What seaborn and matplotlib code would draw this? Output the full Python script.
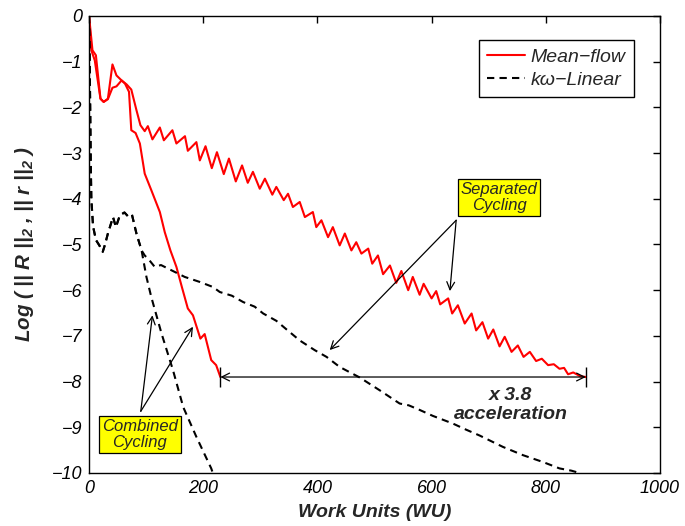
import matplotlib
matplotlib.use("Agg")
import matplotlib.pyplot as plt
from matplotlib.lines import Line2D
import pandas as pd
import seaborn as sns

# Residual histories against work units
mf_sep_x = [0, 6, 12, 20, 25.6, 33, 41, 48, 57, 66, 74, 83, 90, 97.5, 103, 111, 124, 131,
            146, 153, 168, 173, 188, 194, 204, 215, 224, 236, 245, 257, 268, 278, 287, 299,
            308, 321, 328, 341, 348.5, 357, 369, 378, 392, 398, 407, 418.6, 427, 439, 448,
            459.5, 468, 477, 489, 496, 506, 515, 527, 538, 547, 559, 567, 579, 586, 600, 608,
            615, 629, 636, 646, 658, 670, 678, 689, 699, 708, 719, 728, 740, 751, 761, 772,
            783, 793, 804, 814, 824, 832, 839, 848, 860, 870]
mf_sep_y = [0, -0.75, -0.86, -1.81, -1.88, -1.81, -1.06, -1.30, -1.41, -1.50, -1.61, -2.06,
            -2.39, -2.52, -2.41, -2.70, -2.44, -2.72, -2.50, -2.79, -2.63, -2.95, -2.76, -3.16,
            -2.85, -3.33, -2.98, -3.46, -3.12, -3.62, -3.27, -3.65, -3.41, -3.78, -3.56, -3.91,
            -3.74, -4.03, -3.89, -4.18, -4.07, -4.40, -4.29, -4.62, -4.47, -4.84, -4.62, -5.02,
            -4.76, -5.13, -4.95, -5.20, -5.09, -5.42, -5.24, -5.65, -5.46, -5.84, -5.58, -6.00,
            -5.71, -6.10, -5.86, -6.18, -6.02, -6.31, -6.18, -6.51, -6.33, -6.73, -6.51, -6.88,
            -6.70, -7.06, -6.86, -7.23, -7.02, -7.35, -7.21, -7.46, -7.35, -7.55, -7.50, -7.64,
            -7.62, -7.72, -7.70, -7.84, -7.80, -7.88, -7.90]

mf_comb_x = [0, 4, 10, 20, 25.6, 33, 41, 48, 57, 63, 70, 74, 81.5, 89, 97.5, 109, 124, 132.6,
             142.5, 153, 163, 173, 182, 195, 202.5, 214, 222.6, 230]
mf_comb_y = [0, -0.75, -0.97, -1.81, -1.88, -1.82, -1.57, -1.54, -1.41, -1.48, -1.66, -2.50,
             -2.56, -2.79, -3.45, -3.81, -4.29, -4.73, -5.13, -5.49, -5.95, -6.40, -6.55, -7.06,
             -6.96, -7.53, -7.64, -7.90]

# shared start of the turbulence-model residual
kw_head_x = [0, 1, 2, 3, 4, 7, 12, 18, 24, 28, 33, 42, 47, 54, 62, 68, 75, 83, 92]
kw_head_y = [0, -0.8, -2.0, -3.2, -4.0, -4.6, -4.9, -5.02, -5.16, -5.0, -4.76, -4.40, -4.62,
             -4.36, -4.30, -4.38, -4.34, -4.76, -5.13]

kw_comb_x = kw_head_x + [100.5, 109, 127, 147, 165, 188, 214, 219]
kw_comb_y = kw_head_y + [-5.71, -6.15, -6.95, -7.75, -8.56, -9.21, -9.90, -10.08]

kw_sep_x = kw_head_x + [97.5, 106, 115, 126, 135.6, 150, 167.6, 194, 217, 229, 250, 270, 290,
                        305, 328, 346, 369, 395, 416, 439, 474, 509, 544, 560, 579, 602, 637.5,
                        660, 684, 725, 760, 795, 824, 845, 859, 866]
kw_sep_y = kw_head_y + [-5.24, -5.35, -5.49, -5.45, -5.51, -5.60, -5.71, -5.82, -5.93, -6.04,
                        -6.12, -6.26, -6.36, -6.51, -6.67, -6.86, -7.10, -7.31, -7.46, -7.68,
                        -7.91, -8.19, -8.48, -8.52, -8.62, -8.75, -8.92, -9.05, -9.18, -9.43,
                        -9.61, -9.76, -9.90, -9.95, -10.0, -10.05]

MEAN_FLOW = "Mean\u2212flow"
K_OMEGA = "k\u03c9\u2212Linear"

x_ticks = [0, 200, 400, 600, 800, 1000]
y_ticks = [0, -1, -2, -3, -4, -5, -6, -7, -8, -9, -10]

frames = []
for xs, ys, model, cyc in [
    (mf_sep_x, mf_sep_y, MEAN_FLOW, "separated"),
    (mf_comb_x, mf_comb_y, MEAN_FLOW, "combined"),
    (kw_sep_x, kw_sep_y, K_OMEGA, "separated"),
    (kw_comb_x, kw_comb_y, K_OMEGA, "combined"),
]:
    frames.append(pd.DataFrame({"work": xs, "resid": ys, "model": model, "cycling": cyc}))
df = pd.concat(frames, ignore_index=True)

sns.set_style("white")
plt.rcParams["font.family"] = ["Liberation Sans", "DejaVu Sans"]
plt.rcParams["mathtext.default"] = "regular"
plt.rcParams["axes.unicode_minus"] = True

fig = plt.figure(figsize=(6.85, 5.26), dpi=100)
ax = fig.add_axes([0.130, 0.1008, 0.8335, 0.8688])

dash = (3.5, 2.5)
palette = {MEAN_FLOW: "#ff0000", K_OMEGA: "black"}
sns.lineplot(data=df, x="work", y="resid", hue="model", style="model", units="cycling",
             estimator=None, sort=False, palette=palette,
             dashes={MEAN_FLOW: "", K_OMEGA: dash}, linewidth=1.5, legend=False, ax=ax)

ax.set_xlim(0, 1000)
ax.set_ylim(-10, 0)
ax.set_xticks(x_ticks)
ax.set_yticks(y_ticks)
ax.tick_params(direction="in", length=5, width=1, top=True, right=True, pad=5,
               labelsize=13, colors="black")
for lab in ax.get_xticklabels() + ax.get_yticklabels():
    lab.set_fontstyle("italic")
for sp in ax.spines.values():
    sp.set_visible(True)
    sp.set_color("black")
    sp.set_linewidth(1.0)

ax.set_xlabel("Work Units (WU)", fontsize=14, fontweight="bold", fontstyle="italic")
ax.set_ylabel("Log ( || R ||$_2$ , || r ||$_2$ )", fontsize=14.8, fontweight="bold",
              fontstyle="italic")
ax.xaxis.set_label_coords(0.5, -0.068)
ax.yaxis.set_label_coords(-0.093, 0.5)

handles = [Line2D([], [], color="#ff0000", lw=1.5),
           Line2D([], [], color="black", lw=1.5, dashes=dash)]
leg = ax.legend(handles, [MEAN_FLOW, K_OMEGA], loc="upper right",
                bbox_to_anchor=(0.954, 0.947), fancybox=False, framealpha=1,
                edgecolor="black", prop={"size": 14, "style": "italic"},
                handlelength=1.95, borderpad=0.42, labelspacing=0.28, handletextpad=0.3,
                borderaxespad=0)
leg.get_frame().set_linewidth(1.0)

arrow_kw = dict(arrowstyle="->", color="black", lw=0.9, shrinkA=0, shrinkB=0,
                mutation_scale=14)
box_kw = dict(boxstyle="square,pad=0.18", fc="#ffff00", ec="black", lw=0.9)

# speed-up between the two mean-flow histories
b_end = mf_comb_x[-1]
a_end = mf_sep_x[-1]
level = mf_comb_y[-1]
ax.annotate("", xy=(b_end, level), xytext=(a_end, level),
            arrowprops=dict(arrowstyle="<->", color="black", lw=0.9, shrinkA=0, shrinkB=0,
                            mutation_scale=14))
ax.plot([b_end, a_end], [level, level], ls="none", marker="|", ms=15, mew=1.0, color="black")
ax.text(739, -8.51, f"x {a_end / b_end:.1f}\nacceleration", ha="center", va="center",
        fontsize=14, fontweight="bold", fontstyle="italic", linespacing=1.15)

# labels for the two cycling strategies
ax.text(88.8, -9.15, "Combined\nCycling", ha="center", va="center", fontsize=12,
        fontstyle="italic", bbox=box_kw, linespacing=1.1)
for tip in [(111, -6.55), (182, -6.80)]:
    ax.annotate("", xy=tip, xytext=(90.6, -8.65), arrowprops=arrow_kw)

ax.text(718, -3.98, "Separated\nCycling", ha="center", va="center", fontsize=12,
        fontstyle="italic", bbox=box_kw, linespacing=1.1)
for tip in [(421.5, -7.31), (632, -6.02)]:
    ax.annotate("", xy=tip, xytext=(643, -4.47), arrowprops=arrow_kw)

fig.savefig("out.png", dpi=100)
